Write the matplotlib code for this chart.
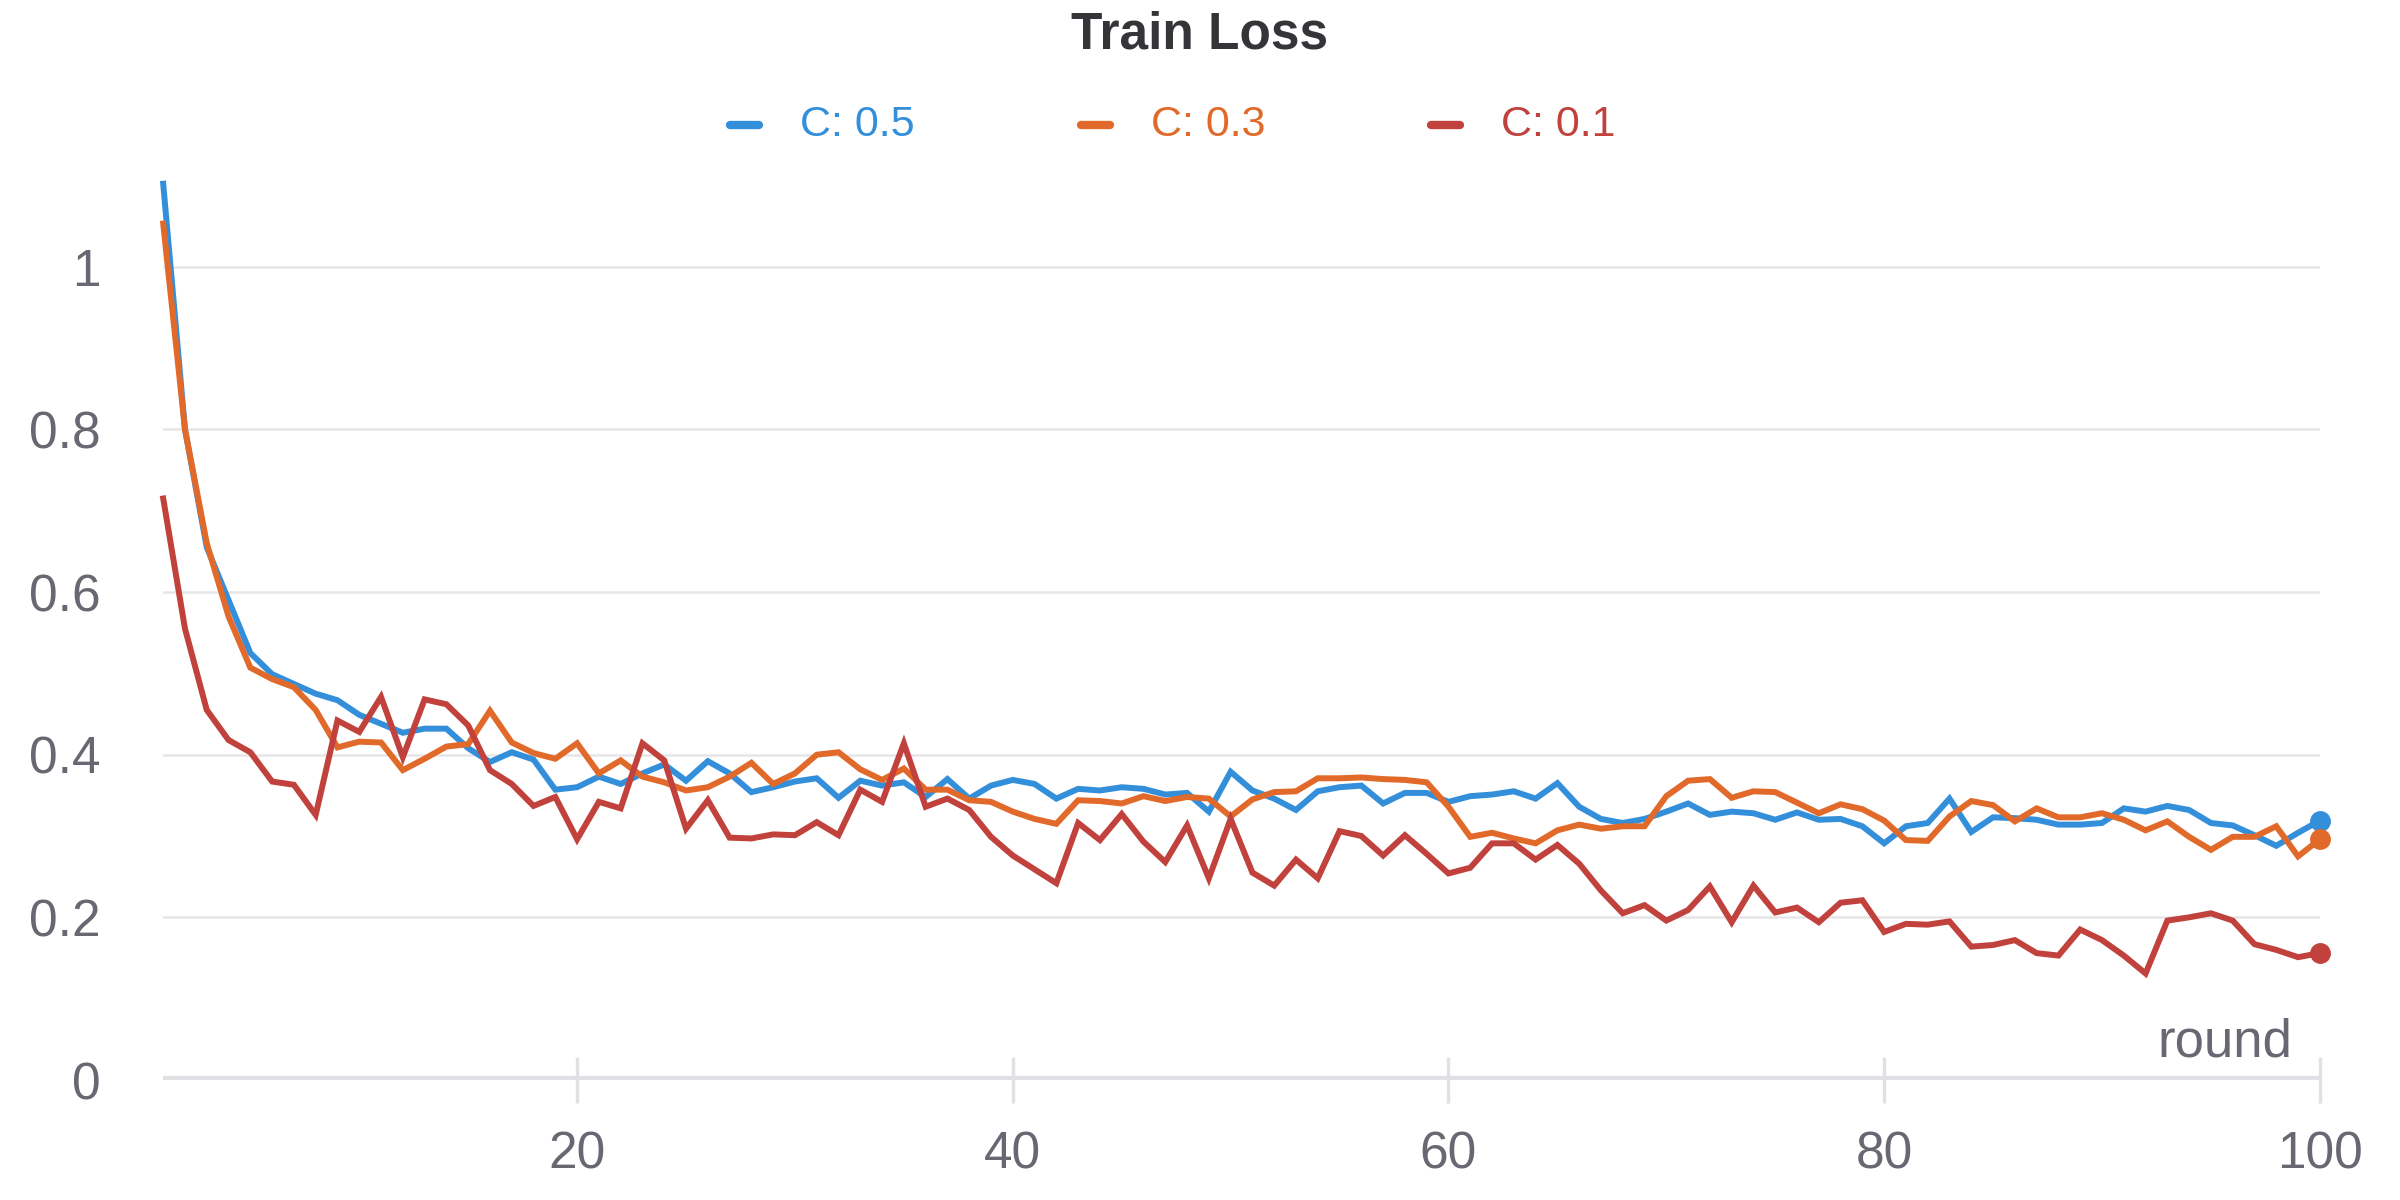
import matplotlib
matplotlib.use("Agg")
import matplotlib.pyplot as plt
from matplotlib.lines import Line2D

plt.rcParams['font.family'] = ['Liberation Sans', 'DejaVu Sans']

rounds = list(range(1, 101))

loss_c05 = [1.102, 0.80, 0.655, 0.59, 0.525, 0.499, 0.487, 0.475, 0.467, 0.449,
            0.438, 0.427, 0.432, 0.432, 0.408, 0.391, 0.403, 0.394, 0.357, 0.360,
            0.373, 0.364, 0.377, 0.388, 0.368, 0.392, 0.377, 0.354, 0.360, 0.367,
            0.371, 0.347, 0.368, 0.362, 0.366, 0.348, 0.370, 0.346, 0.362, 0.369,
            0.364, 0.346, 0.358, 0.356, 0.360, 0.358, 0.351, 0.353, 0.330, 0.379,
            0.356, 0.346, 0.332, 0.355, 0.360, 0.362, 0.340, 0.353, 0.353, 0.342,
            0.349, 0.351, 0.355, 0.346, 0.365, 0.336, 0.321, 0.316, 0.321, 0.330,
            0.340, 0.326, 0.330, 0.328, 0.320, 0.329, 0.320, 0.321, 0.312, 0.291,
            0.312, 0.316, 0.346, 0.305, 0.323, 0.322, 0.320, 0.314, 0.314, 0.316,
            0.334, 0.330, 0.337, 0.332, 0.316, 0.313, 0.301, 0.288, 0.304, 0.319]

loss_c03 = [1.053, 0.80, 0.66, 0.570, 0.507, 0.493, 0.483, 0.455, 0.409, 0.416,
            0.415, 0.381, 0.395, 0.410, 0.413, 0.454, 0.415, 0.402, 0.395, 0.414,
            0.377, 0.393, 0.373, 0.366, 0.356, 0.360, 0.373, 0.390, 0.364, 0.377,
            0.400, 0.403, 0.382, 0.369, 0.383, 0.357, 0.357, 0.344, 0.342, 0.330,
            0.321, 0.315, 0.344, 0.343, 0.340, 0.349, 0.343, 0.348, 0.346, 0.324,
            0.345, 0.354, 0.355, 0.371, 0.371, 0.372, 0.370, 0.369, 0.366, 0.336,
            0.299, 0.304, 0.297, 0.291, 0.307, 0.314, 0.309, 0.312, 0.312, 0.349,
            0.368, 0.370, 0.347, 0.355, 0.354, 0.341, 0.328, 0.339, 0.333, 0.319,
            0.295, 0.294, 0.324, 0.343, 0.338, 0.318, 0.334, 0.323, 0.323, 0.328,
            0.320, 0.307, 0.318, 0.299, 0.283, 0.299, 0.299, 0.312, 0.275, 0.296]

loss_c01 = [0.715, 0.555, 0.455, 0.418, 0.403, 0.367, 0.363, 0.326, 0.442, 0.428,
            0.471, 0.397, 0.468, 0.462, 0.436, 0.381, 0.364, 0.337, 0.348, 0.296,
            0.342, 0.334, 0.414, 0.393, 0.309, 0.344, 0.298, 0.297, 0.302, 0.301,
            0.317, 0.301, 0.357, 0.342, 0.414, 0.336, 0.346, 0.332, 0.299, 0.276,
            0.259, 0.242, 0.316, 0.295, 0.327, 0.293, 0.268, 0.313, 0.248, 0.321,
            0.255, 0.239, 0.271, 0.248, 0.306, 0.300, 0.276, 0.301, 0.278, 0.254,
            0.261, 0.291, 0.291, 0.271, 0.289, 0.266, 0.233, 0.205, 0.215, 0.196,
            0.209, 0.238, 0.194, 0.239, 0.206, 0.212, 0.194, 0.218, 0.221, 0.182,
            0.192, 0.191, 0.195, 0.164, 0.166, 0.172, 0.156, 0.153, 0.185, 0.172,
            0.153, 0.131, 0.196, 0.200, 0.205, 0.196, 0.167, 0.160, 0.151, 0.156]

series_labels = ['C: 0.5', 'C: 0.3', 'C: 0.1']
series_colors = ['#348fdb', '#e16a2b', '#c1423c']
ytick_vals = [0, 0.2, 0.4, 0.6, 0.8, 1.0]
ytick_labels = ['0', '0.2', '0.4', '0.6', '0.8', '1']
xtick_vals = [20, 40, 60, 80, 100]
xtick_labels = ['20', '40', '60', '80', '100']
title = 'Train Loss'
x_label = 'round'

TICK_COLOR = '#686873'
GRID_COLOR = '#e6e6e9'
BASE_COLOR = '#e1e1e5'

fig = plt.figure(figsize=(24, 12), dpi=100)
fig.patch.set_facecolor('white')
ax = fig.add_axes([0.068, 0.1, 0.8986, 0.7455])

series = [loss_c05, loss_c03, loss_c01]
for vals, col, lab in zip(series, series_colors, series_labels):
    ax.plot(rounds, vals, color=col, lw=4.3, solid_joinstyle='miter', clip_on=False, zorder=3, label=lab)
    ax.plot([rounds[-1]], [vals[-1]], 'o', color=col, ms=14, clip_on=False, zorder=4)

ax.set_xlim(1, 100)
ax.set_ylim(0, 1.1)
for s in ax.spines.values():
    s.set_visible(False)

# gridlines
for yv in ytick_vals[1:]:
    ax.axhline(yv, color=GRID_COLOR, lw=1.8, zorder=1)
ax.axhline(0, color=BASE_COLOR, lw=6, zorder=2)

ax.set_yticks(ytick_vals)
ax.set_yticklabels(ytick_labels)
ax.set_xticks(xtick_vals)
ax.set_xticklabels(xtick_labels)
ax.tick_params(axis='y', length=0, pad=45, labelsize=37, labelcolor=TICK_COLOR)
ax.tick_params(axis='x', direction='inout', length=33, width=2.4, color=BASE_COLOR,
               pad=20, labelsize=37, labelcolor=TICK_COLOR)

ax.text(0.987, 0.026, x_label, transform=ax.transAxes, ha='right', va='baseline',
        fontsize=38, color=TICK_COLOR)

fig.text(0.5, 1 - 35 / 1200, title, ha='center', va='center', fontsize=37,
         fontweight='bold', color='#333538')

# legend
legend_y = 1 - 125 / 1200
marker_x0 = [726, 1077, 1427]
for x0, col, lab in zip(marker_x0, series_colors, series_labels):
    fig.add_artist(Line2D([(x0 + 4) / 2400, (x0 + 33) / 2400], [legend_y, legend_y],
                          color=col, lw=6, solid_capstyle='round', transform=fig.transFigure))
    fig.text((x0 + 74) / 2400, legend_y, lab, ha='left', va='center', fontsize=31, color=col)

fig.savefig('out.png', dpi=100, facecolor='white')
